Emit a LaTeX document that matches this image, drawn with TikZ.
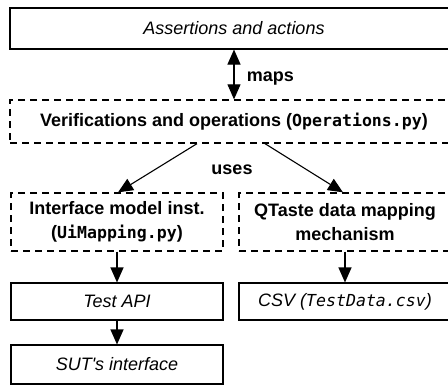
\documentclass[tikz,border=0pt]{standalone}
\usepackage{fontspec}
\setmainfont{Liberation Sans}
\setmonofont[Scale=0.92]{DejaVu Sans Mono}
\usetikzlibrary{arrows.meta}

\newcommand{\boxfont}{\fontsize{18}{24}\selectfont}

\tikzset{
  box/.style={draw, line width=1.1pt, inner sep=0pt, font=\boxfont\itshape},
  dbox/.style={draw, dash pattern=on 7pt off 5pt, line width=1.3pt, inner sep=0pt, font=\boxfont\bfseries, align=center},
  lbl/.style={font=\boxfont\bfseries},
  arr/.style={line width=1.1pt, -{Triangle[width=13pt,length=15pt]}},
  darr/.style={line width=1.1pt, {Triangle[width=13pt,length=15pt]}-{Triangle[width=13pt,length=15pt]}},
}

\begin{document}
\begin{tikzpicture}[x=1pt,y=-1pt]
  \useasboundingbox (0,0) rectangle (448,391);
  % top layer
  \node[box, minimum width=448pt, minimum height=41pt] (assert) at (234,28.5) {Assertions and actions};
  \node[dbox, minimum width=448pt, minimum height=43pt] (verif) at (234,121.5) {Verifications and operations (\texttt{Operations.py})};
  \draw[darr] (assert) -- (verif) node[lbl, pos=0.58, right=9pt] {maps};
  % middle layer
  \node[dbox, minimum width=212pt, minimum height=58pt] (iface) at (117,222) {Interface model inst.\\(\texttt{UiMapping.py})};
  \node[dbox, minimum width=212pt, minimum height=58pt] (qtaste) at (345,222) {QTaste data mapping\\mechanism};
  \draw[arr] ([xshift=-37pt]verif.south) -- ([xshift=1pt]iface.north);
  \draw[arr] ([xshift=31pt]verif.south) -- ([xshift=-2pt]qtaste.north);
  \node[lbl] (uses) at (232,170) {uses};
  % bottom layer
  \node[box, minimum width=212pt, minimum height=37pt] (api) at (117,301.5) {Test API};
  \node[box, minimum width=212pt, minimum height=37pt] (csv) at (345,301.5) {CSV (\texttt{TestData.csv})};
  \node[box, minimum width=212pt, minimum height=39pt] (sut) at (117,364.5) {SUT\textquotesingle s interface};
  \draw[arr] (iface) -- (api);
  \draw[arr] (qtaste) -- (csv);
  \draw[arr] (api) -- (sut);
\end{tikzpicture}
\end{document}
